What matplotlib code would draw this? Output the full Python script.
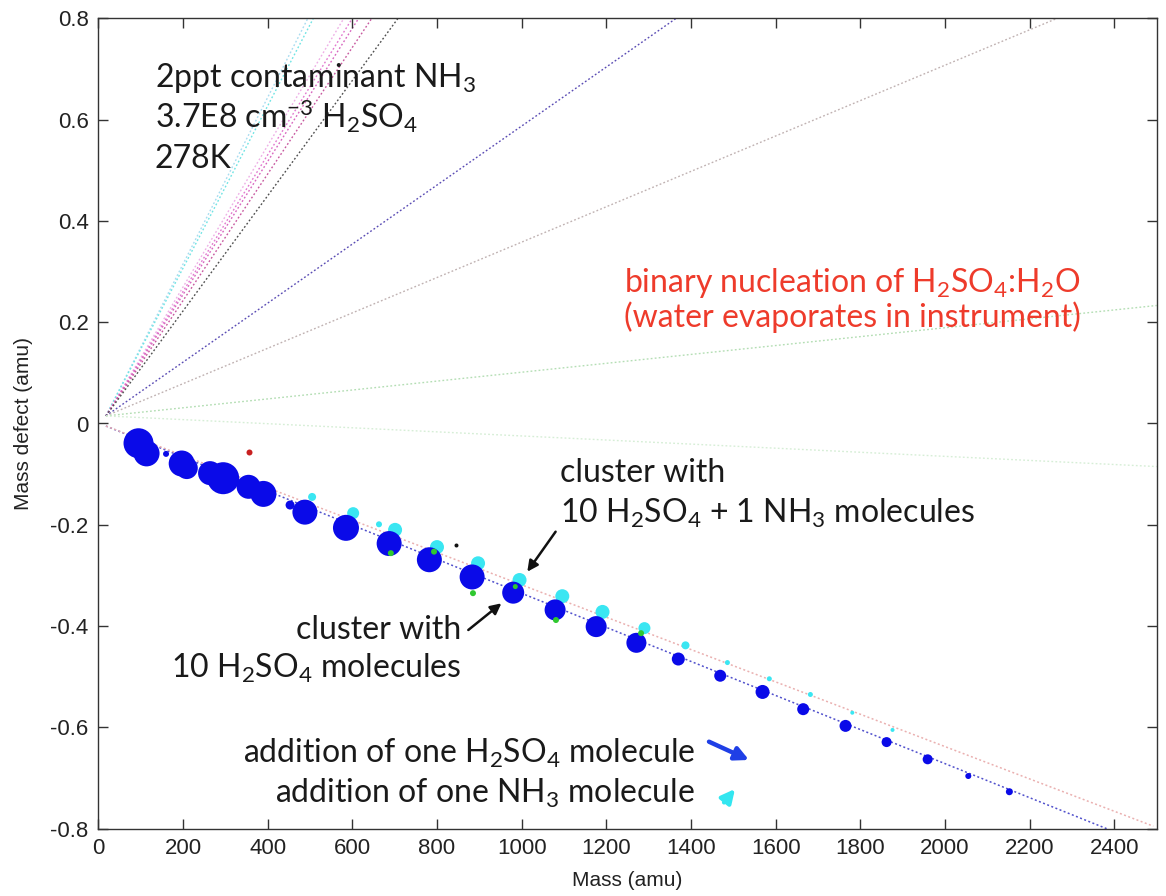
import matplotlib
matplotlib.use("Agg")
import matplotlib.pyplot as plt
import numpy as np

# ---------------- data ----------------
x_ticks = [0, 200, 400, 600, 800, 1000, 1200, 1400, 1600, 1800, 2000, 2200, 2400]
x_tick_labels = ["0", "200", "400", "600", "800", "1000", "1200", "1400", "1600",
                 "1800", "2000", "2200", "2400"]
y_ticks = [-0.8, -0.6, -0.4, -0.2, 0.0, 0.2, 0.4, 0.6, 0.8]
y_tick_labels = ["-0.8", "-0.6", "-0.4", "-0.2", "0", "0.2", "0.4", "0.6", "0.8"]

# H2SO4 clusters (blue)
blue_mass = [95, 114, 160, 197, 209, 264, 295, 355, 390, 453, 488, 585, 687, 782,
             883, 980, 1079, 1176, 1271, 1370, 1469, 1569, 1665, 1765, 1862, 1959,
             2055, 2152]
blue_defect = [-0.039, -0.059, -0.060, -0.079, -0.088, -0.098, -0.108, -0.125,
               -0.139, -0.161, -0.175, -0.206, -0.237, -0.269, -0.303, -0.334,
               -0.368, -0.401, -0.433, -0.465, -0.498, -0.530, -0.564, -0.597,
               -0.629, -0.663, -0.696, -0.727]
blue_conc = [15, 13, 3, 13, 11, 12, 16, 12, 13, 4.5, 12.5, 13, 12.5, 12.5, 12.5, 11,
             10.5, 10.5, 10, 6.5, 6, 7, 6, 6, 5, 5, 3, 3.5]

# H2SO4 + NH3 clusters (cyan)
cyan_mass = [505, 602, 663, 701, 800, 897, 995, 1096, 1191, 1290, 1387, 1486,
             1585, 1682, 1781, 1876]
cyan_defect = [-0.145, -0.177, -0.199, -0.210, -0.244, -0.276, -0.309, -0.341,
               -0.372, -0.404, -0.438, -0.472, -0.504, -0.535, -0.571, -0.605]
cyan_conc = [4, 6, 3, 7, 7, 7, 7, 7, 7, 6, 4, 2.5, 2.5, 2.5, 2, 2]

# other clusters (green)
green_mass = [691, 793, 885, 985, 1081, 1282]
green_defect = [-0.256, -0.253, -0.335, -0.322, -0.388, -0.414]
green_conc = [3, 3, 3, 2.5, 3, 3]

red_mass = [356]
red_defect = [-0.056]
red_conc = [3]

black_mass = [844]
black_defect = [-0.240]
black_conc = [2]

# reference lines starting near the origin: end mass, end defect
line_start_mass = 18
line_up_start_defect = 0.015
line_down_start_defect = -0.005
up_line_end_mass = [495, 508, 580, 600, 615, 646, 708, 1365, 2265, 2500, 2500]
up_line_end_defect = [0.8, 0.8, 0.8, 0.8, 0.8, 0.8, 0.8, 0.8, 0.8, 0.233, -0.085]
up_line_colors = ["#a8dcf0", "#70e4e4", "#eeb0e6", "#e27ad0", "#d868c0",
                  "#c85aa0", "#505050", "#5a4cb4", "#c0b2b2", "#b4deb4", "#d6eed6"]
down_line_end_mass = [2382, 2492]
down_line_end_defect = [-0.8, -0.795]
down_line_colors = ["#5050cc", "#eab0b0"]

# ---------------- figure ----------------
plt.rcParams["mathtext.fontset"] = "custom"
plt.rcParams["mathtext.rm"] = "Lato"
plt.rcParams["mathtext.it"] = "Lato:italic"
plt.rcParams["mathtext.bf"] = "Lato:bold"

W, H = 1166, 896
fig = plt.figure(figsize=(W / 100, H / 100), dpi=100)
ax_l, ax_r, ax_t, ax_b = 98.3, 1156.7, 18.3, 828.7
ax = fig.add_axes([ax_l / W, 1 - ax_b / H, (ax_r - ax_l) / W, (ax_b - ax_t) / H])

dots = (0, (1.3, 1.6))
for m, d, c in zip(up_line_end_mass, up_line_end_defect, up_line_colors):
    ax.plot([line_start_mass, m], [line_up_start_defect, d], color=c, lw=1.0,
            linestyle=dots, zorder=1)
for m, d, c in zip(down_line_end_mass, down_line_end_defect, down_line_colors):
    ax.plot([line_start_mass, m], [line_down_start_defect, d], color=c, lw=1.1,
            linestyle=dots, zorder=1)


def sz(r):
    r = np.asarray(r, dtype=float)
    return (2 * r * 72 / 100) ** 2


ax.scatter(cyan_mass, cyan_defect, s=sz(cyan_conc), color="#3ae6f2", lw=0, zorder=2)
ax.scatter(blue_mass, blue_defect, s=sz(blue_conc), color="#0a0ae8", lw=0, zorder=3)
ax.scatter(green_mass, green_defect, s=sz(green_conc), color="#2fc82f", lw=0, zorder=4)
ax.scatter(red_mass, red_defect, s=sz(red_conc), color="#c82020", lw=0, zorder=4)
ax.scatter(black_mass, black_defect, s=sz(black_conc), color="#111111", lw=0, zorder=4)

ax.set_xlim(0, 2500)
ax.set_ylim(-0.8, 0.8)
ax.set_xticks(x_ticks)
ax.set_xticklabels(x_tick_labels)
ax.set_yticks(y_ticks)
ax.set_yticklabels(y_tick_labels)

tickfont = "Liberation Sans"
ax.tick_params(direction="in", top=True, right=True, length=7, width=1,
               color="#333333", labelsize=16, pad=7)
for lab in ax.get_xticklabels() + ax.get_yticklabels():
    lab.set_family(tickfont)
    lab.set_color("#222222")
for sp in ax.spines.values():
    sp.set_linewidth(1.0)
    sp.set_color("#333333")

ax.set_xlabel("Mass (amu)", fontsize=15, family=tickfont, color="#222222")
ax.set_ylabel("Mass defect (amu)", fontsize=15, family=tickfont, color="#222222")
ax.xaxis.set_label_coords(0.5, -0.052)
ax.yaxis.set_label_coords(-0.062, 0.5)


def fx(px):
    return (px - ax_l) / (ax_r - ax_l)


def fy(py):
    return (ax_b - py) / (ax_b - ax_t)


tf = "Lato"
txtc = "#1a1a1a"
fs_big = 23
fs_ann = 23
ax.text(fx(155), fy(87.3), "2ppt contaminant NH$_3$", transform=ax.transAxes,
        fontsize=fs_big, family=tf, color=txtc, va="baseline")
ax.text(fx(155), fy(128.3), "3.7E8 cm$^{-3}$ H$_2$SO$_4$", transform=ax.transAxes,
        fontsize=fs_big, family=tf, color=txtc, va="baseline")
ax.text(fx(155), fy(168.3), "278K", transform=ax.transAxes,
        fontsize=fs_big, family=tf, color=txtc, va="baseline")

redc = "#ee3b2b"
ax.text(fx(623.5), fy(291.7), "binary nucleation of H$_2$SO$_4$:H$_2$O",
        transform=ax.transAxes, fontsize=fs_ann, family=tf, color=redc, va="baseline")
ax.text(fx(623.5), fy(326.7), "(water evaporates in instrument)",
        transform=ax.transAxes, fontsize=fs_ann, family=tf, color=redc, va="baseline")

ax.text(fx(560), fy(481.7), "cluster with", transform=ax.transAxes,
        fontsize=fs_ann, family=tf, color=txtc, va="baseline")
ax.text(fx(560), fy(523.3), "10 H$_2$SO$_4$ + 1 NH$_3$ molecules", transform=ax.transAxes,
        fontsize=fs_ann, family=tf, color=txtc, va="baseline")
ax.text(fx(461), fy(639.3), "cluster with", transform=ax.transAxes,
        fontsize=fs_ann, family=tf, color=txtc, va="baseline", ha="right")
ax.text(fx(461), fy(678.3), "10 H$_2$SO$_4$ molecules", transform=ax.transAxes,
        fontsize=fs_ann, family=tf, color=txtc, va="baseline", ha="right")
ax.text(fx(695), fy(763.3), "addition of one H$_2$SO$_4$ molecule", transform=ax.transAxes,
        fontsize=fs_ann, family=tf, color=txtc, va="baseline", ha="right")
ax.text(fx(695), fy(803.3), "addition of one NH$_3$ molecule", transform=ax.transAxes,
        fontsize=fs_ann, family=tf, color=txtc, va="baseline", ha="right")

def arrow(tail, head, color, lw, ms):
    ax.annotate("", xy=(fx(head[0]), fy(head[1])), xycoords="axes fraction",
                xytext=(fx(tail[0]), fy(tail[1])), textcoords="axes fraction",
                arrowprops=dict(arrowstyle="-|>", color=color, lw=lw,
                                mutation_scale=ms, shrinkA=0, shrinkB=0),
                zorder=6)

arrow((555.6, 531.7), (527.3, 571.7), "#111111", 1.8, 16)
arrow((468.3, 630.0), (501.4, 603.3), "#111111", 1.8, 16)
arrow((709.0, 741.7), (749.0, 760.0), "#1f3fe6", 3.2, 20)
arrow((724.0, 802.5), (735.0, 789.0), "#33e6f0", 3.0, 20)

fig.savefig("out.png", dpi=100, facecolor="white")
